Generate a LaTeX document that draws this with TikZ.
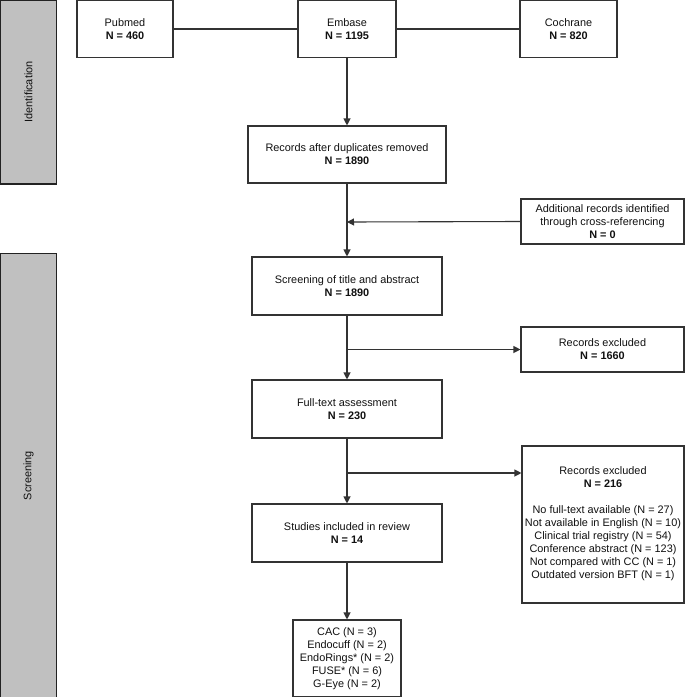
\documentclass[tikz,border=0pt]{standalone}
\usepackage{fontspec}
\setmainfont{Liberation Sans}
\usetikzlibrary{arrows.meta}
\definecolor{boxline}{HTML}{333333}
\definecolor{lineclr}{HTML}{333333}
\definecolor{sidegray}{HTML}{C0C0C0}
\definecolor{sideline}{HTML}{222222}
\definecolor{txt}{HTML}{111111}
\begin{document}
\begin{tikzpicture}[x=1pt,y=-1pt,
  font=\fontsize{10.9}{13}\selectfont, text=txt,
  box/.style={draw=boxline, line width=1.1pt, fill=white, inner sep=0pt, align=center},
  side/.style={draw=sideline, fill=sidegray, line width=1.4pt, inner sep=0pt},
  arr/.style={draw=lineclr, line width=1.1pt, -{Triangle[length=7pt,width=7pt]}},
  ln/.style={draw=lineclr, line width=1.1pt}]
\useasboundingbox (0,0) rectangle (685,697);

% side labels
\node[side, rotate=90, minimum width=184, minimum height=56] (ident) at (28.5,92) {Identification};
\node[side, rotate=90, minimum width=444, minimum height=56] (scr) at (28.5,475.5) {Screening};

% sources
\node[box, minimum width=96, minimum height=57] (pub) at (125,29) {Pubmed\\\textbf{N = 460}};
\node[box, minimum width=98, minimum height=57] (emb) at (347,29) {Embase\\\textbf{N = 1195}};
\node[box, minimum width=97, minimum height=57] (coch) at (568.5,29) {Cochrane\\\textbf{N = 820}};

% main column
\node[box, minimum width=198, minimum height=57] (dup) at (347,154.5) {Records after duplicates removed\\\textbf{N = 1890}};
\node[box, minimum width=190, minimum height=58] (tit) at (347,286) {Screening of title and abstract\\\textbf{N = 1890}};
\node[box, minimum width=190, minimum height=58] (full) at (347,409) {Full-text assessment\\\textbf{N = 230}};
\node[box, minimum width=190, minimum height=58] (inc) at (347,533) {Studies included in review\\\textbf{N = 14}};
\node[box, minimum width=108, minimum height=77] (cac) at (347,658.5) {CAC (N = 3)\\Endocuff (N = 2)\\EndoRings* (N = 2)\\FUSE* (N = 6)\\G-Eye (N = 2)};

% right column
\node[box, minimum width=163, minimum height=45] (add) at (602.5,221.5) {Additional records identified\\through cross-referencing\\\textbf{N = 0}};
\node[box, minimum width=163, minimum height=45] (ex1) at (602.5,349.5) {Records excluded\\\textbf{N = 1660}};
\node[box, minimum width=162, minimum height=157] (ex2) at (603,524.5) {};
\node[align=center, inner sep=0pt, anchor=north] (ex2t) at (603,466) {Records excluded\\\textbf{N = 216}\\[13pt]No full-text available (N = 27)\\Not available in English (N = 10)\\Clinical trial registry (N = 54)\\Conference abstract (N = 123)\\Not compared with CC (N = 1)\\Outdated version BFT (N = 1)};

% junction coordinates
\coordinate (j0) at (347,222);
\coordinate (b1) at (347,349.5);
\coordinate (b2) at (347,473);

% connectors
\draw[ln] (pub.east) -- (emb.west);
\draw[ln] (emb.east) -- (coch.west);
\draw[arr] (emb.south) -- (dup.north);
\draw[arr] (dup.south) -- (tit.north);
\draw[arr] (add.west) -- (j0);
\draw[arr] (tit.south) -- (full.north);
\draw[arr] (b1) -- (ex1.west);
\draw[arr] (full.south) -- (inc.north);
\draw[arr] (b2) -- (b2 -| ex2.west);
\draw[arr] (inc.south) -- (cac.north);
\end{tikzpicture}
\end{document}
